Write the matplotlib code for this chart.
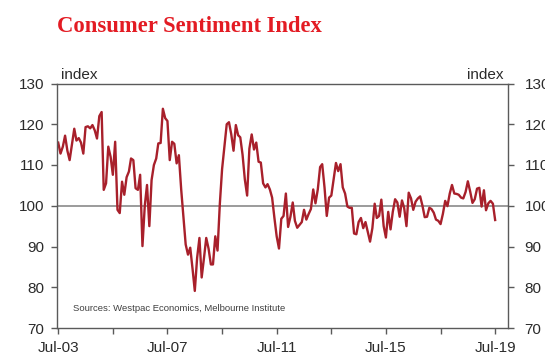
import matplotlib
matplotlib.use("Agg")
import matplotlib.pyplot as plt
import pandas as pd
import datetime as dt

start_month = "2003-07-01"
sentiment = [
    115.5, 112.8, 114.5, 117.2, 113.5, 111.2, 115.0, 118.9, 116.0, 116.6,
    115.5, 112.8, 119.3, 119.5, 119.0, 119.8, 118.5, 116.5, 122.0, 123.0,
    103.9, 105.5, 114.5, 112.0, 107.6, 115.7, 99.0, 98.2, 105.9, 102.7,
    107.0, 108.4, 111.6, 111.2,
    104.3, 103.9, 107.6, 90.1, 100.0, 105.1,
    95.0, 106.3, 110.0, 111.6, 115.3, 115.4, 123.8, 121.5, 120.8, 111.2,
    115.7, 115.2, 110.4, 112.4, 104.0, 97.0, 90.5, 88.0, 89.7, 84.5,
    79.1, 87.2, 92.1, 82.4, 87.2, 92.1, 89.5,
    85.6, 85.6, 92.5,
    89.0, 100.5, 109.0, 114.5, 120.0, 120.5, 117.5, 113.5, 119.8, 117.3,
    116.8, 112.5, 106.5, 102.5, 114.0, 117.5, 113.8, 115.5, 110.8, 110.6,
    105.5, 104.5, 105.3, 104.0, 102.0, 97.0, 92.5, 89.5, 96.8, 97.5,
    103.0, 94.8, 97.3, 100.8, 96.3, 94.6, 95.3, 96.0, 99.0, 96.6,
    98.0, 99.2, 104.0, 100.6, 104.0, 109.5, 110.2, 104.5, 97.5, 102.0,
    102.5, 106.5, 110.5, 108.5, 110.2, 104.5, 103.0, 99.8, 99.5, 99.5,
    93.2, 93.0, 96.0, 97.0, 94.5, 96.0, 93.5, 91.2, 94.5, 100.5,
    97.0, 97.5, 101.5, 95.0, 92.2, 98.5, 94.2, 98.5, 101.6, 100.8,
    97.3, 101.3, 99.5, 95.0, 103.2, 101.8, 99.0, 101.0, 101.8, 102.3,
    100.0, 97.2, 97.3, 99.5, 99.2,
    98.3, 96.6, 96.3, 95.5, 98.0,
    101.2, 99.9, 103.0, 105.1, 103.0, 102.9, 102.7, 102.0, 101.8, 103.4,
    106.0, 103.5, 100.7, 101.6, 104.2, 104.4, 99.8, 103.8, 98.9, 100.6,
    101.2, 100.5, 96.5,
]
dates = pd.date_range(start=start_month, periods=len(sentiment), freq="MS")

y_ticks = [70, 80, 90, 100, 110, 120, 130]
x_tick_years = [2003, 2005, 2007, 2009, 2011, 2013, 2015, 2017, 2019]
x_label_years = [2003, 2007, 2011, 2015, 2019]
title = "Consumer Sentiment Index"
source = "Sources: Westpac Economics, Melbourne Institute"

fig = plt.figure(figsize=(5.45, 3.62), dpi=100)
ax = fig.add_axes([57/545, 1-328/362, (508-57)/545, (328-83.5)/362])

line_col = "#a8202b"
ax.axhline(100, color="#8a8a8a", lw=1.2, zorder=1)
ax.plot(dates, sentiment, color=line_col, lw=1.7, zorder=2)

ax.set_ylim(70, 130)
ax.set_xlim(dt.date(2003, 6, 15), dt.date(2019, 12, 20))
ax.set_yticks(y_ticks)
ax.set_yticklabels([str(v) for v in y_ticks])
xt = [dt.date(y, 7, 1) for y in x_tick_years]
ax.set_xticks(xt)
ax.set_xticklabels([f"Jul-{y % 100:02d}" if y in x_label_years else "" for y in x_tick_years])

txtcol = "#2b2b2b"
font = "Liberation Sans"
for sp in ax.spines.values():
    sp.set_color("#5a5a5a")
    sp.set_linewidth(1.0)
ax.tick_params(axis="both", direction="out", length=4, width=1.0, color="#5a5a5a",
               labelsize=11, labelcolor=txtcol, pad=5)
ax.tick_params(axis="y", right=True, labelright=True)
shift = matplotlib.transforms.ScaledTranslation(4/100, 0, fig.dpi_scale_trans)
for t in ax.yaxis.get_major_ticks():
    t.label2.set_transform(t.label2.get_transform() + shift)
    t.label2.set_fontfamily(font)
for lab in ax.get_xticklabels() + ax.get_yticklabels():
    lab.set_fontfamily(font)

fig.text(57/545, 1-27/362, title, color="#e31b23", fontsize=16.3, fontweight="bold",
         family="Liberation Serif", va="center", ha="left")
fig.text(61/545, 1-75/362, "index", fontsize=11, family=font, color=txtcol, va="center", ha="left")
fig.text(504/545, 1-75/362, "index", fontsize=11, family=font, color=txtcol, va="center", ha="right")
ax.text(0.036, 0.078, source, transform=ax.transAxes, fontsize=6.8, family=font,
        color="#404040", va="center", ha="left")

fig.savefig("out.png", dpi=100)
